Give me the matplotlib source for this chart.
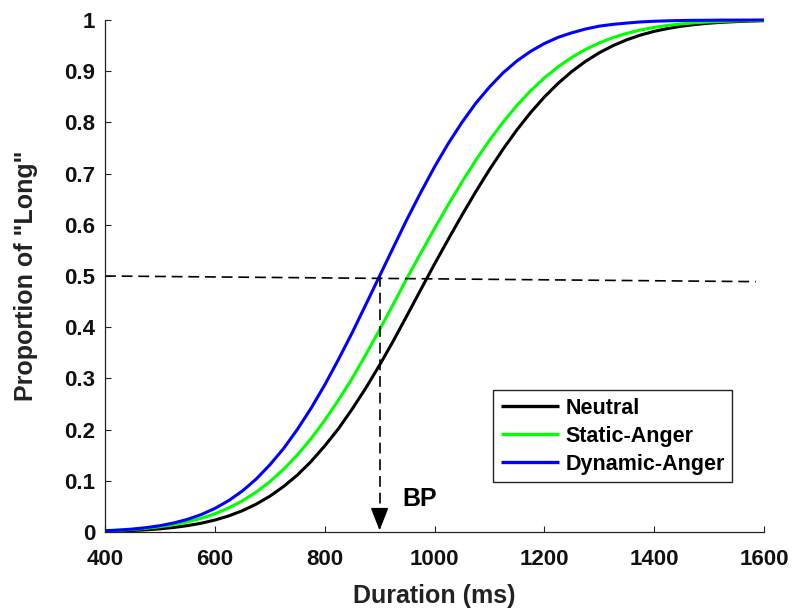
import matplotlib
matplotlib.use("Agg")
import matplotlib.pyplot as plt

# ---- data ----
duration = [400, 425, 450, 475, 500, 525, 550, 575, 600, 625, 650, 675, 700, 725, 750,
            775, 800, 825, 850, 875, 900, 925, 950, 975, 1000, 1025, 1050, 1075, 1100,
            1125, 1150, 1175, 1200, 1225, 1250, 1275, 1300, 1325, 1350, 1375, 1400,
            1425, 1450, 1475, 1500, 1525, 1550, 1575, 1600]
neutral = [0.0013, 0.0019, 0.0029, 0.0043, 0.0062, 0.0088, 0.0124, 0.0171, 0.0233,
           0.0313, 0.0415, 0.0542, 0.0698, 0.0887, 0.111, 0.1374, 0.168, 0.2016, 0.240,
           0.2813, 0.326, 0.3733, 0.423, 0.4733, 0.5233, 0.5716, 0.6188, 0.6644, 0.7076,
           0.7480, 0.7853, 0.8192, 0.8495, 0.8762, 0.8994, 0.9192, 0.9360, 0.9499, 0.9613,
           0.9705, 0.9778, 0.9835, 0.9879, 0.9912, 0.9938, 0.9956, 0.9969, 0.9979, 0.9986]
static_anger = [0.0023, 0.0034, 0.0050, 0.0072, 0.0102, 0.0143, 0.0196, 0.0266, 0.0355,
                0.0468, 0.0607, 0.0777, 0.098, 0.1222, 0.150, 0.1820, 0.218, 0.2575, 0.300,
                0.3464, 0.395, 0.4451, 0.496, 0.5447, 0.5926, 0.6391, 0.6837, 0.7257, 0.7649,
                0.8006, 0.8330, 0.8617, 0.8868, 0.9085, 0.9270, 0.9424, 0.9552, 0.9656, 0.9739,
                0.9805, 0.9856, 0.9895, 0.9924, 0.9946, 0.9962, 0.9974, 0.9982, 0.9988, 0.9992]
dynamic_anger = [0.0025, 0.0038, 0.0057, 0.0085, 0.0123, 0.0176, 0.0246, 0.0339, 0.046,
                 0.0612, 0.080, 0.1031, 0.131, 0.1628, 0.200, 0.2413, 0.287, 0.3368, 0.389,
                 0.4443, 0.500, 0.5557, 0.611, 0.6632, 0.713, 0.7587, 0.800, 0.8372, 0.869,
                 0.8969, 0.920, 0.9388, 0.954, 0.9661, 0.975, 0.9824, 0.988, 0.9915, 0.994,
                 0.9962, 0.9975, 0.9984, 0.999, 0.9994, 0.9995, 0.9998, 0.9998, 0.9999, 1.0]
series_names = ["Neutral", "Static-Anger", "Dynamic-Anger"]
series_colors = ["#000000", "#00FF00", "#0000FF"]
bp_x = 900
ref_line_x = [400, 1585]
ref_line_y = [0.5, 0.489]
xticks = [400, 600, 800, 1000, 1200, 1400, 1600]
yticks = [0, 0.1, 0.2, 0.3, 0.4, 0.5, 0.6, 0.7, 0.8, 0.9, 1]
ytick_labels = ["0", "0.1", "0.2", "0.3", "0.4", "0.5", "0.6", "0.7", "0.8", "0.9", "1"]

plt.rcParams['font.family'] = ['Liberation Sans', 'DejaVu Sans']
plt.rcParams['font.weight'] = 'bold'

fig = plt.figure(figsize=(7.93, 6.11), dpi=100)
ax = fig.add_axes([105 / 793, 79 / 611, 659 / 793, 512 / 611])

for ys, name, col in zip([neutral, static_anger, dynamic_anger], series_names, series_colors):
    ax.plot(duration, ys, color=col, lw=2.2, label=name, solid_capstyle='butt',
            solid_joinstyle='round', clip_on=False)

# reference dashed lines
ax.plot(ref_line_x, ref_line_y, color='black', lw=1.2, dashes=(6.5, 3.5))
ax.plot([bp_x, bp_x], [0.5, 0.03], color='black', lw=1.2, dashes=(6.5, 3.5))
ax.annotate('', xy=(bp_x, 0.003), xytext=(bp_x, 0.04),
            arrowprops=dict(arrowstyle='-|>,head_length=1.4,head_width=0.55',
                            color='black', lw=1.2, shrinkA=0, shrinkB=0))
ax.text(941, 0.051, 'BP', fontsize=18, fontweight='bold', va='baseline', ha='left')

ax.set_xlim(400, 1600)
ax.set_ylim(0, 1)
ax.set_xticks(xticks)
ax.set_xticklabels([str(t) for t in xticks])
ax.set_yticks(yticks)
ax.set_yticklabels(ytick_labels)
ax.spines['top'].set_visible(False)
ax.spines['right'].set_visible(False)
for s in ['left', 'bottom']:
    ax.spines[s].set_linewidth(0.9)
    ax.spines[s].set_color('#222222')
ax.tick_params(axis='both', direction='in', length=4, width=0.8, labelsize=16, colors='#222222',
               labelcolor='#111111')
ax.tick_params(axis='x', pad=12.5)
ax.tick_params(axis='y', pad=7)
for lab in ax.get_xticklabels() + ax.get_yticklabels():
    lab.set_fontweight('bold')

ax.set_xlabel('Duration (ms)', fontsize=18, fontweight='bold', color='#222222', labelpad=10)
ax.set_ylabel('Proportion of "Long"', fontsize=18, fontweight='bold', color='#222222', labelpad=19)

leg = ax.legend(loc='upper left', bbox_to_anchor=(0.589, 0.277), fontsize=15.5,
                handlelength=2.7, handletextpad=0.3, labelspacing=0.33, borderpad=0.35,
                borderaxespad=0, fancybox=False, framealpha=1, edgecolor='#222222')
leg.get_frame().set_linewidth(1.0)
for t in leg.get_texts():
    t.set_fontweight('bold')
for l in leg.get_lines():
    l.set_linewidth(2.4)

fig.savefig('out.png', dpi=100)
